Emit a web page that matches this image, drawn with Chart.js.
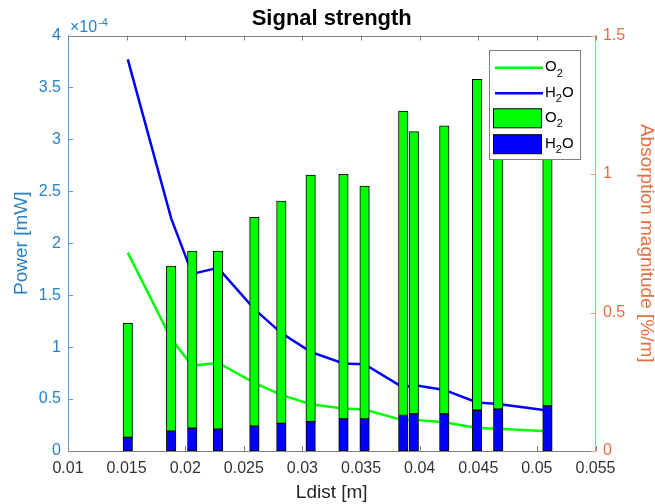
<!DOCTYPE html>
<html>
<head>
<meta charset="utf-8">
<script src="https://cdn.jsdelivr.net/npm/chart.js@4.4.1/dist/chart.umd.min.js"></script>
<style>
  html, body { margin: 0; padding: 0; background: #fff; }
</style>
</head>
<body>
<canvas id="signal-chart" width="655" height="504"></canvas>
<script>
// distance of each measurement [m]
var ldist = [0.0151, 0.0188, 0.0206, 0.0228, 0.0259, 0.0282, 0.0307, 0.0335, 0.0353, 0.0386, 0.0395, 0.0421, 0.0449, 0.0467, 0.0509];

// received power [mW]
var powerO2 = [1.91e-4, 1.08e-4, 0.82e-4, 0.85e-4, 0.655e-4, 0.54e-4, 0.45e-4, 0.41e-4, 0.40e-4, 0.295e-4, 0.30e-4, 0.277e-4, 0.222e-4, 0.214e-4, 0.19e-4];
var powerH2O = [3.77e-4, 2.24e-4, 1.705e-4, 1.763e-4, 1.366e-4, 1.135e-4, 0.954e-4, 0.842e-4, 0.835e-4, 0.61e-4, 0.635e-4, 0.588e-4, 0.467e-4, 0.453e-4, 0.39e-4];

// absorption magnitude [%/m], stacked H2O + O2
var absH2O = [0.049, 0.072, 0.082, 0.079, 0.090, 0.100, 0.106, 0.116, 0.116, 0.128, 0.134, 0.134, 0.147, 0.151, 0.163];
var absO2 = [0.412, 0.596, 0.640, 0.643, 0.754, 0.802, 0.890, 0.883, 0.840, 1.099, 1.019, 1.040, 1.195, 1.150, 1.090];

// axis ticks
var xTickValues = [0.01, 0.015, 0.02, 0.025, 0.03, 0.035, 0.04, 0.045, 0.05, 0.055];
var xTickLabels = ['0.01', '0.015', '0.02', '0.025', '0.03', '0.035', '0.04', '0.045', '0.05', '0.055'];
var powerTickValues = [0, 0.5e-4, 1e-4, 1.5e-4, 2e-4, 2.5e-4, 3e-4, 3.5e-4, 4e-4];
var powerTickLabels = ['0', '0.5', '1', '1.5', '2', '2.5', '3', '3.5', '4'];
var absTickValues = [0, 0.5, 1, 1.5];
var absTickLabels = ['0', '0.5', '1', '1.5'];

var FONT = '"Liberation Sans", Arial, Helvetica, sans-serif';
var blueText = '#2a80c4', blueLine = '#5a9fd6';
var orangeText = '#e2703f', orangeLine = '#ee9c7b';
var frameGray = '#7f7f7f';

Chart.defaults.font.family = FONT;

function points(xs, ys) {
    return xs.map(function (x, i) { return { x: x, y: ys[i] }; });
}

function setTicks(values) {
    return function (scale) {
        scale.ticks = values.map(function (v) { return { value: v }; });
    };
}

// text like "H₂O": subscript digits drawn smaller and lowered
function drawSubText(ctx, text, x, y, size) {
    var subs = '₀₁₂₃₄₅₆₇₈₉';
    for (var i = 0; i < text.length; i++) {
        var ch = text[i], k = subs.indexOf(ch);
        if (k >= 0) {
            ctx.font = Math.round(size * 0.72) + 'px ' + FONT;
            ctx.fillText(String(k), x, y + size * 0.36);
            x += ctx.measureText(String(k)).width;
        } else {
            ctx.font = size + 'px ' + FONT;
            ctx.fillText(ch, x, y);
            x += ctx.measureText(ch).width;
        }
    }
}

// box top line and inward tick marks on all four sides
var frameTicks = {
    id: 'frameTicks',
    beforeDatasetsDraw: function (chart) {
        var ctx = chart.ctx, a = chart.chartArea;
        var sx = chart.scales.x, sy = chart.scales.y, sr = chart.scales.y1;
        var len = 5;
        ctx.save();
        ctx.lineWidth = 1;

        ctx.strokeStyle = frameGray;
        ctx.beginPath();
        ctx.moveTo(a.left, Math.round(a.top) + 0.5);
        ctx.lineTo(a.right, Math.round(a.top) + 0.5);
        sx.ticks.forEach(function (t) {
            var px = Math.round(sx.getPixelForValue(t.value)) + 0.5;
            ctx.moveTo(px, a.bottom);
            ctx.lineTo(px, a.bottom - len);
            ctx.moveTo(px, a.top);
            ctx.lineTo(px, a.top + len);
        });
        ctx.stroke();

        ctx.strokeStyle = blueLine;
        ctx.beginPath();
        sy.ticks.forEach(function (t) {
            var py = Math.round(sy.getPixelForValue(t.value)) + 0.5;
            ctx.moveTo(a.left, py);
            ctx.lineTo(a.left + len, py);
        });
        ctx.stroke();

        ctx.strokeStyle = orangeLine;
        ctx.beginPath();
        sr.ticks.forEach(function (t) {
            var py = Math.round(sr.getPixelForValue(t.value)) + 0.5;
            ctx.moveTo(a.right, py);
            ctx.lineTo(a.right - len, py);
        });
        ctx.stroke();

        // x10^-4 multiplier of the power axis
        ctx.fillStyle = blueText;
        ctx.textBaseline = 'alphabetic';
        ctx.font = '16px ' + FONT;
        ctx.fillText('×10', a.left + 2, a.top - 4);
        var w = ctx.measureText('×10').width;
        ctx.font = '11px ' + FONT;
        ctx.fillText('-4', a.left + 2 + w + 1, a.top - 10);
        ctx.restore();
    }
};

// legend box inside the plot, drawn over the bars
var boxLegend = {
    id: 'boxLegend',
    afterDatasetsDraw: function (chart) {
        var ctx = chart.ctx;
        var sets = chart.data.datasets;
        var order = [0, 1, 3, 2];
        var bx = 489.5, by = 50.5, bw = 91, bh = 109;
        var rows = [67.7, 93.3, 118.3, 144.2];
        ctx.save();
        ctx.fillStyle = '#fff';
        ctx.fillRect(bx, by, bw, bh);
        ctx.strokeStyle = frameGray;
        ctx.lineWidth = 1;
        ctx.strokeRect(bx, by, bw, bh);
        order.forEach(function (di, r) {
            var ds = sets[di], y = rows[r];
            if (ds.type === 'line') {
                ctx.strokeStyle = ds.borderColor;
                ctx.lineWidth = 2.5;
                ctx.beginPath();
                ctx.moveTo(495, y);
                ctx.lineTo(543, y);
                ctx.stroke();
            } else {
                ctx.fillStyle = ds.backgroundColor;
                ctx.fillRect(493.5, y - 9.5, 48, 19);
                ctx.strokeStyle = '#000';
                ctx.lineWidth = 1;
                ctx.strokeRect(493.5, y - 9.5, 48, 19);
            }
            ctx.fillStyle = '#000';
            ctx.textBaseline = 'alphabetic';
            drawSubText(ctx, ds.label, 545, y + 3.5, 15);
        });
        ctx.restore();
    }
};

var ctx = document.getElementById('signal-chart').getContext('2d');
var chart = new Chart(ctx, {
    type: 'bar',
    data: {
        datasets: [{
            type: 'line',
            label: 'O₂',
            data: points(ldist, powerO2),
            yAxisID: 'y',
            borderColor: '#00ff00',
            borderWidth: 2.5,
            pointRadius: 0,
            tension: 0,
            order: 1
        }, {
            type: 'line',
            label: 'H₂O',
            data: points(ldist, powerH2O),
            yAxisID: 'y',
            borderColor: '#0000ff',
            borderWidth: 2.5,
            pointRadius: 0,
            tension: 0,
            order: 1
        }, {
            label: 'H₂O',
            data: points(ldist, absH2O),
            yAxisID: 'y1',
            stack: 'abs',
            backgroundColor: '#0000ff',
            borderColor: '#000',
            borderWidth: 1,
            borderSkipped: false,
            barThickness: 9.5,
            order: 0
        }, {
            label: 'O₂',
            data: points(ldist, absO2),
            yAxisID: 'y1',
            stack: 'abs',
            backgroundColor: '#00ff00',
            borderColor: '#000',
            borderWidth: 1,
            borderSkipped: false,
            barThickness: 9.5,
            order: 0
        }]
    },
    options: {
        responsive: false,
        animation: false,
        layout: { padding: 0 },
        plugins: {
            legend: { display: false },
            tooltip: { enabled: false },
            title: {
                display: true,
                text: 'Signal strength',
                fullSize: false,
                color: '#000',
                font: { size: 22, weight: 'bold', lineHeight: 1.2 },
                padding: { top: 5.5, bottom: 3.6 }
            }
        },
        scales: {
            x: {
                type: 'linear',
                position: 'bottom',
                min: 0.01,
                max: 0.055,
                offset: false,
                stacked: true,
                afterBuildTicks: setTicks(xTickValues),
                afterFit: function (s) { s.height = 53; },
                grid: { display: false, drawTicks: false },
                border: { display: true, color: frameGray, width: 1 },
                ticks: {
                    autoSkip: false,
                    maxRotation: 0,
                    padding: 8,
                    color: '#333',
                    font: { size: 16 },
                    callback: function (v, i) { return xTickLabels[i]; }
                },
                title: {
                    display: true,
                    text: 'Ldist [m]',
                    color: '#262626',
                    font: { size: 19, lineHeight: 1 },
                    padding: { top: 0, bottom: 1.5 }
                }
            },
            y: {
                type: 'linear',
                position: 'left',
                min: 0,
                max: 4e-4,
                afterBuildTicks: setTicks(powerTickValues),
                afterFit: function (s) { s.width = 68; },
                grid: { display: false, drawTicks: false },
                border: { display: true, color: blueLine, width: 1 },
                ticks: {
                    padding: 7,
                    color: blueText,
                    font: { size: 16 },
                    callback: function (v, i) { return powerTickLabels[i]; }
                },
                title: {
                    display: true,
                    text: 'Power [mW]',
                    color: blueText,
                    font: { size: 19, lineHeight: 1 },
                    padding: { top: 12, bottom: 0 }
                }
            },
            y1: {
                type: 'linear',
                position: 'right',
                min: 0,
                max: 1.5,
                stacked: true,
                afterBuildTicks: setTicks(absTickValues),
                afterFit: function (s) { s.width = 59.5; },
                grid: { display: false, drawTicks: false },
                border: { display: true, color: orangeLine, width: 1 },
                ticks: {
                    padding: 7.5,
                    color: orangeText,
                    font: { size: 16 },
                    callback: function (v, i) { return absTickLabels[i]; }
                },
                title: {
                    display: true,
                    text: 'Absorption magnitude [%/m]',
                    color: orangeText,
                    font: { size: 19, lineHeight: 0.8 },
                    padding: { top: 1.2, bottom: 0 }
                }
            }
        }
    },
    plugins: [frameTicks, boxLegend]
});
</script>
</body>
</html>
